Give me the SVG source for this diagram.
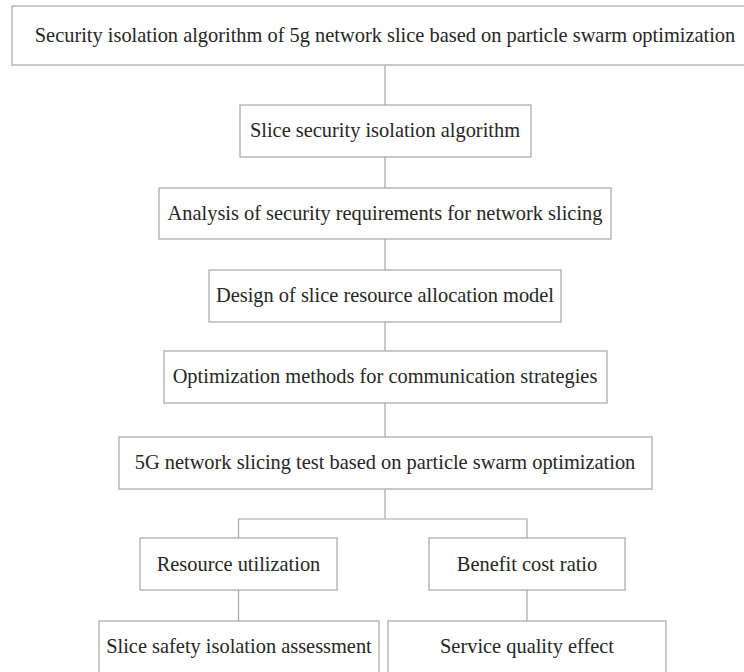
<svg xmlns="http://www.w3.org/2000/svg" width="744" height="672" viewBox="0 0 744 672">
<style>
.box{fill:#ffffff;stroke:#a6a6a6;stroke-width:1.2}
.lbl{font-family:"Liberation Serif","Times New Roman",serif;font-size:20.4px;fill:#262626;text-anchor:middle}
.con{fill:none;stroke:#a6a6a6;stroke-width:1.2}
</style>
<rect x="0" y="0" width="744" height="672" fill="#ffffff"/>
<g id="connectors">
<line class="con" x1="385" y1="65" x2="385" y2="105"/>
<line class="con" x1="385" y1="157" x2="385" y2="188"/>
<line class="con" x1="385" y1="239" x2="385" y2="270"/>
<line class="con" x1="385" y1="322" x2="385" y2="351"/>
<line class="con" x1="385" y1="403" x2="385" y2="437"/>
<polyline class="con" points="385,489 385,519"/>
<polyline class="con" points="238.5,538 238.5,519 527,519 527,538"/>
<line class="con" x1="238.5" y1="590" x2="238.5" y2="621"/>
<line class="con" x1="527" y1="590" x2="527" y2="621"/>
</g>
<g id="n1"><rect class="box" x="12" y="6" width="760" height="59"/><text class="lbl" x="385" y="42">Security isolation algorithm of 5g network slice based on particle swarm optimization</text></g>
<g id="n2"><rect class="box" x="240" y="105" width="291" height="52"/><text class="lbl" x="385" y="137">Slice security isolation algorithm</text></g>
<g id="n3"><rect class="box" x="159" y="188" width="452" height="51"/><text class="lbl" x="385" y="220">Analysis of security requirements for network slicing</text></g>
<g id="n4"><rect class="box" x="209" y="270" width="352" height="52"/><text class="lbl" x="385" y="302">Design of slice resource allocation model</text></g>
<g id="n5"><rect class="box" x="164" y="351" width="443" height="52"/><text class="lbl" x="385" y="383">Optimization methods for communication strategies</text></g>
<g id="n6"><rect class="box" x="119" y="437" width="533" height="52"/><text class="lbl" x="385" y="469">5G network slicing test based on particle swarm optimization</text></g>
<g id="n7"><rect class="box" x="140" y="538" width="197" height="52"/><text class="lbl" x="238.5" y="571">Resource utilization</text></g>
<g id="n8"><rect class="box" x="429" y="538" width="196" height="52"/><text class="lbl" x="527" y="571">Benefit cost ratio</text></g>
<g id="n9"><rect class="box" x="99" y="621" width="280" height="60"/><text class="lbl" x="239" y="653">Slice safety isolation assessment</text></g>
<g id="n10"><rect class="box" x="388" y="621" width="278" height="60"/><text class="lbl" x="527" y="653">Service quality effect</text></g>
</svg>
